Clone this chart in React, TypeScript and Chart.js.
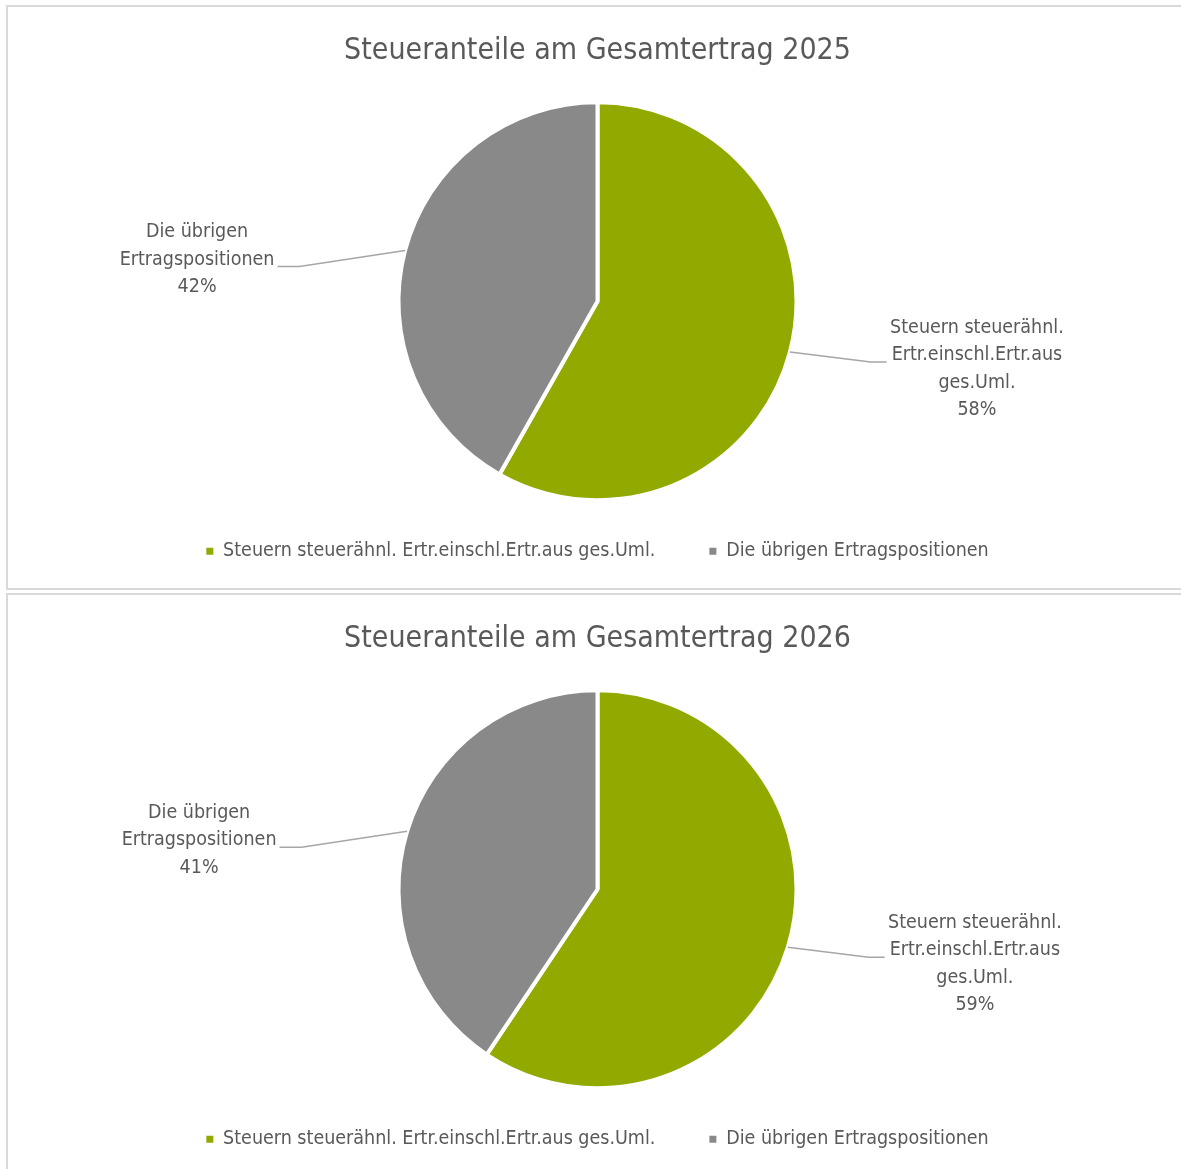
import React, { useEffect, useRef } from "react";
import { Chart, registerables } from "chart.js";

Chart.register(...registerables);

// ---- data ----
const categories = [
  "Steuern steuerähnl. Ertr.einschl.Ertr.aus ges.Uml.",
  "Die übrigen Ertragspositionen",
];
const labelLines = [
  ["Steuern steuerähnl.", "Ertr.einschl.Ertr.aus", "ges.Uml."],
  ["Die übrigen", "Ertragspositionen"],
];
const values2025 = [58.2, 41.8];
const values2026 = [59.4, 40.6];
const titles = ["Steueranteile am Gesamtertrag 2025", "Steueranteile am Gesamtertrag 2026"];
const colors = ["#92a900", "#898989"];

const FONT = "'Liberation Sans Narrow', 'Arial Narrow', 'DejaVu Sans Condensed', sans-serif";
const TEXT = "#595959";

const pieLabels = {
  id: "pieLabels",
  afterDatasetsDraw(chart: any, _args: any, opts: any) {
    const meta = chart.getDatasetMeta(0);
    const data = chart.data.datasets[0].data as number[];
    const total = data.reduce((a, b) => a + b, 0);
    const ctx = chart.ctx;
    ctx.save();
    ctx.font = `${opts.size}px ${FONT}`;
    ctx.fillStyle = TEXT;
    ctx.textAlign = "center";
    ctx.textBaseline = "middle";
    meta.data.forEach((arc: any, i: number) => {
      const p = arc.getProps(["x", "y", "startAngle", "endAngle", "outerRadius"], true);
      const mid = (p.startAngle + p.endAngle) / 2;
      const ex = p.x + Math.cos(mid) * p.outerRadius;
      const ey = p.y + Math.sin(mid) * p.outerRadius;
      const off = opts.offsets[i];
      const cx = ex + off.dx;
      const line1y = ey + off.dy;
      const lines = [...labelLines[i], Math.round((data[i] / total) * 100) + "%"];
      const lh = opts.lineHeight;
      lines.forEach((t: string, k: number) => {
        ctx.fillText(t, cx, line1y + (k - 1) * lh);
      });
      // leader
      const w = ctx.measureText(lines[1]).width;
      const ly = line1y + 7;
      const right = off.dx > 0;
      const tx = right ? cx - w / 2 - 5 : cx + w / 2 + 3;
      const elbowX = right ? tx - 16 : tx + 22;
      ctx.beginPath();
      ctx.strokeStyle = "#a6a6a6";
      ctx.lineWidth = 1.5;
      ctx.moveTo(ex, ey);
      ctx.lineTo(elbowX, ly);
      ctx.lineTo(tx, ly);
      ctx.stroke();
    });
    ctx.restore();
  },
};

function PieBox({ title, values, top }: { title: string; values: number[]; top: number }) {
  const ref = useRef<HTMLCanvasElement>(null);
  useEffect(() => {
    if (!ref.current) return;
    const chart = new Chart(ref.current, {
      type: "pie",
      data: {
        labels: categories,
        datasets: [
          {
            data: values,
            backgroundColor: colors,
            borderColor: "#ffffff",
            borderWidth: 4,
            clip: false,
          } as any,
        ],
      },
      options: {
        animation: false,
        responsive: false,
        devicePixelRatio: 1,
        radius: 199,
        layout: { padding: { top: 0, bottom: 17, left: 0, right: 0 } },
        plugins: {
          title: {
            display: true,
            text: title,
            color: TEXT,
            font: { family: FONT, size: 30, weight: "normal" },
            padding: { top: 26, bottom: 46 },
          },
          legend: {
            position: "bottom",
            labels: {
              color: TEXT,
              font: { family: FONT, size: 19.5 },
              boxWidth: 7,
              boxHeight: 7,
              padding: 54,
              generateLabels: (chart: any) => {
                const base = (Chart as any).overrides.pie.plugins.legend.labels.generateLabels(chart);
                return base.map((l: any) => ({ ...l, lineWidth: 0, strokeStyle: "rgba(0,0,0,0)" }));
              },
            },
          },
          tooltip: { enabled: false },
          pieLabels: {
            size: 19.5,
            lineHeight: 27.5,
            offsets: [
              { dx: 187, dy: 3 },
              { dx: -208, dy: 9 },
            ],
          },
        } as any,
      },
      plugins: [pieLabels],
    });
    return () => chart.destroy();
  }, [title, values]);
  return (
    <div
      style={{
        position: "absolute",
        left: 6,
        top,
        width: 1183,
        height: 585,
        border: "2px solid #d9d9d9",
        boxSizing: "border-box",
        background: "#fff",
      }}
    >
      <canvas ref={ref} width={1179} height={581} style={{ display: "block", width: 1179, height: 581 }} />
    </div>
  );
}

export default function App() {
  return (
    <div
      style={{
        position: "absolute",
        left: 0,
        top: 0,
        width: 1181,
        height: 1169,
        overflow: "hidden",
        background: "#fff",
      }}
    >
      <PieBox title={titles[0]} values={values2025} top={5} />
      <PieBox title={titles[1]} values={values2026} top={593} />
    </div>
  );
}
